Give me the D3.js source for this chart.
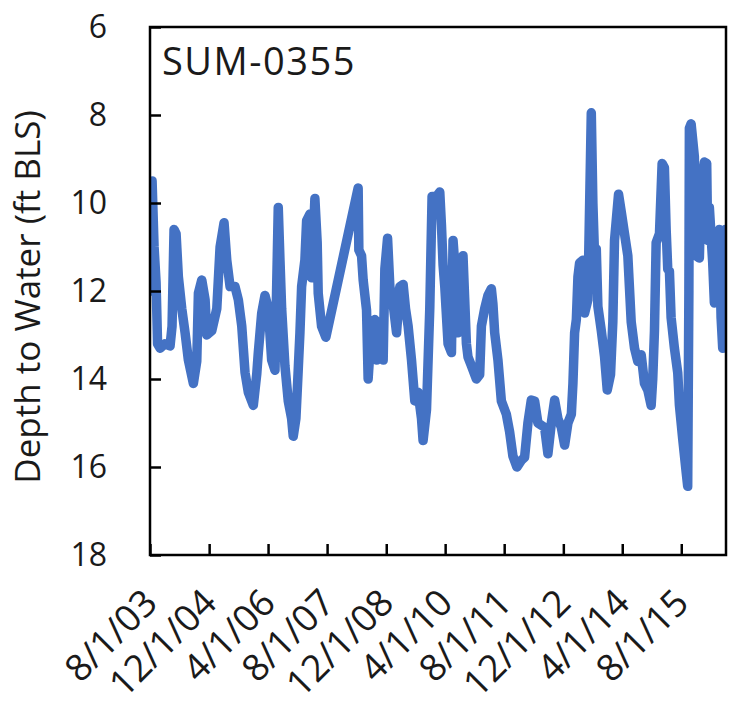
<!DOCTYPE html>
<html>
<head>
<meta charset="utf-8">
<script src="https://cdn.jsdelivr.net/npm/d3@7"></script>
<style>
  html, body { margin: 0; padding: 0; background: #fff; }
  svg { display: block; font-family: "Open Sans", "Noto Sans", sans-serif; }
</style>
</head>
<body>
<svg id="chart" width="730" height="712"></svg>
<script>
// ---- data ----
const wellName = "SUM-0355";
const yAxisTitle = "Depth to Water (ft BLS)";
const yTicks = [6, 8, 10, 12, 14, 16, 18];
const xTickLabels = ["8/1/03", "12/1/04", "4/1/06", "8/1/07", "12/1/08", "4/1/10", "8/1/11", "12/1/12", "4/1/14", "8/1/15"];
// sample dates as decimal years
const decYears = [
  2003.583, 2003.628, 2003.673, 2003.718, 2003.752, 2003.809, 2003.921, 2004.034, 2004.079, 2004.124,
  2004.170, 2004.221, 2004.298, 2004.373, 2004.447, 2004.560, 2004.636, 2004.673, 2004.749, 2004.824,
  2004.862, 2004.975, 2005.088, 2005.162, 2005.252, 2005.313, 2005.388, 2005.500, 2005.575, 2005.652,
  2005.726, 2005.800, 2005.913, 2005.990, 2006.026, 2006.103, 2006.177, 2006.252, 2006.328, 2006.403,
  2006.477, 2006.516, 2006.554, 2006.628, 2006.703, 2006.779, 2006.816, 2006.876, 2006.928, 2006.967,
  2007.005, 2007.079, 2007.118, 2007.192, 2007.231, 2007.305, 2007.357, 2007.380, 2007.456, 2007.553,
  2008.282, 2008.298, 2008.359, 2008.395, 2008.471, 2008.507, 2008.584, 2008.659, 2008.697, 2008.771,
  2008.846, 2008.884, 2008.945, 2008.997, 2009.071, 2009.148, 2009.223, 2009.297, 2009.351, 2009.410,
  2009.486, 2009.561, 2009.635, 2009.712, 2009.748, 2009.825, 2009.899, 2009.951, 2010.050, 2010.125,
  2010.163, 2010.199, 2010.238, 2010.312, 2010.389, 2010.425, 2010.501, 2010.538, 2010.614, 2010.650,
  2010.689, 2010.727, 2010.763, 2010.840, 2010.953, 2011.027, 2011.066, 2011.140, 2011.214, 2011.291,
  2011.327, 2011.366, 2011.440, 2011.517, 2011.629, 2011.704, 2011.778, 2011.869, 2011.968, 2012.042,
  2012.117, 2012.193, 2012.268, 2012.342, 2012.493, 2012.568, 2012.645, 2012.719, 2012.793, 2012.870,
  2012.945, 2013.019, 2013.096, 2013.132, 2013.170, 2013.209, 2013.245, 2013.283, 2013.357, 2013.396,
  2013.470, 2013.547, 2013.583, 2013.621, 2013.660, 2013.696, 2013.773, 2013.847, 2013.908, 2013.982,
  2014.034, 2014.072, 2014.163, 2014.224, 2014.298, 2014.373, 2014.411, 2014.449, 2014.524, 2014.598,
  2014.675, 2014.749, 2014.824, 2014.900, 2014.936, 2014.975, 2015.013, 2015.088, 2015.148, 2015.200,
  2015.239, 2015.275, 2015.313, 2015.351, 2015.426, 2015.501, 2015.539, 2015.613, 2015.690, 2015.726,
  2015.753, 2015.764, 2015.803, 2015.877, 2015.916, 2015.990, 2016.028, 2016.103, 2016.155, 2016.177,
  2016.215, 2016.290, 2016.328, 2016.380, 2016.441, 2016.479, 2016.516, 2016.576, 2016.590
];
// depth to water (ft below land surface)
const depths = [
  12.0, 9.5, 11.0, 11.8, 13.2, 13.3, 13.2, 13.25, 12.8, 10.6,
  10.7, 11.67, 12.4, 12.95, 13.57, 14.1, 13.6, 12.05, 11.75, 12.2,
  13.0, 12.9, 12.4, 11.0, 10.45, 11.3, 11.9, 11.9, 12.2, 12.8,
  13.85, 14.3, 14.6, 13.9, 13.4, 12.5, 12.1, 12.4, 13.57, 13.8,
  10.1, 11.3, 12.4, 13.7, 14.5, 14.9, 15.3, 14.9, 13.8, 12.95,
  11.9, 11.3, 10.4, 10.25, 11.7, 9.9, 10.9, 12.05, 12.8, 13.05,
  9.66, 11.07, 11.2, 11.75, 12.43, 14.0, 12.8, 12.65, 13.57, 12.7,
  13.57, 11.5, 10.8, 11.9, 12.3, 12.95, 11.9, 11.85, 12.4, 12.8,
  13.57, 14.5, 14.3, 14.9, 15.4, 14.7, 12.4, 9.85, 9.85, 9.75,
  10.5, 11.4, 11.9, 13.2, 13.4, 10.85, 11.9, 12.95, 12.65, 11.2,
  12.2, 13.2, 13.5, 13.7, 14.0, 13.9, 12.8, 12.4, 12.1, 11.95,
  12.3, 12.95, 13.57, 14.5, 14.8, 15.2, 15.75, 16.0, 15.85, 15.78,
  15.0, 14.48, 14.5, 15.0, 15.1, 15.7, 15.0, 14.48, 14.9, 15.1,
  15.5, 15.0, 14.8, 14.1, 12.95, 12.65, 11.68, 11.36, 11.3, 12.5,
  12.2, 7.95, 10.0, 11.2, 11.05, 12.35, 12.9, 13.5, 14.25, 13.9,
  12.7, 10.85, 9.8, 10.2, 10.7, 11.2, 11.95, 12.7, 13.3, 13.6,
  13.45, 14.1, 14.25, 14.6, 14.0, 12.9, 10.9, 10.7, 9.1, 9.2,
  10.6, 11.5, 11.55, 12.6, 13.3, 13.86, 14.6, 15.36, 16.1, 16.44,
  12.0, 8.3, 8.2, 8.95, 11.2, 11.25, 9.65, 9.07, 9.1, 10.85,
  10.1, 11.35, 12.27, 11.7, 10.6, 12.6, 13.3, 10.6, 12.5
];

// ---- helpers ----
function decToDate(d) {
  const y = Math.floor(d);
  const s = new Date(y, 0, 1).getTime();
  const e = new Date(y + 1, 0, 1).getTime();
  return new Date(s + (d - y) * (e - s));
}
const parseTick = d3.timeParse("%m/%d/%y");
const series = decYears.map((d, i) => ({ date: decToDate(d), value: depths[i] }));

// ---- layout ----
const svg = d3.select("#chart");
const plot = { left: 150, right: 726, top: 27, bottom: 555 };
const lineColor = "#4472C4";

const x = d3.scaleTime()
  .domain([parseTick("8/1/03"), new Date(2016, 7, 4)])
  .range([plot.left, plot.right]);
const y = d3.scaleLinear()
  .domain([6, 18])
  .range([plot.top, plot.bottom]);

svg.append("clipPath").attr("id", "clip")
  .append("rect")
  .attr("x", plot.left).attr("y", plot.top)
  .attr("width", plot.right - plot.left).attr("height", plot.bottom - plot.top);

const line = d3.line().x(d => x(d.date)).y(d => y(d.value));
svg.append("path")
  .datum(series)
  .attr("clip-path", "url(#clip)")
  .attr("fill", "none")
  .attr("stroke", lineColor)
  .attr("stroke-width", 9.5)
  .attr("stroke-linejoin", "round")
  .attr("stroke-linecap", "round")
  .attr("d", line);

// frame
svg.append("rect")
  .attr("x", plot.left).attr("y", plot.top)
  .attr("width", plot.right - plot.left).attr("height", plot.bottom - plot.top)
  .attr("fill", "none").attr("stroke", "#000").attr("stroke-width", 2.5);

// y axis
const yAxis = d3.axisLeft(y).tickValues(yTicks).tickSize(-11).tickPadding(43).tickFormat(d3.format("d"));
const gy = svg.append("g").attr("transform", `translate(${plot.left},0)`).call(yAxis);
gy.select(".domain").remove();
gy.selectAll(".tick line").attr("stroke", "#000").attr("stroke-width", 2.5);
gy.selectAll(".tick text").attr("font-size", 32).attr("fill", "#1a1a1a")
  .attr("font-family", "'Open Sans', 'Noto Sans', sans-serif");

// x axis
const xTickDates = xTickLabels.map(parseTick);
const xAxis = d3.axisBottom(x).tickValues(xTickDates).tickSize(-11)
  .tickFormat((d, i) => xTickLabels[i]);
const gx = svg.append("g").attr("transform", `translate(0,${plot.bottom})`).call(xAxis);
gx.select(".domain").remove();
gx.selectAll(".tick line").attr("stroke", "#000").attr("stroke-width", 2.5);
gx.selectAll(".tick text")
  .attr("font-size", 37).attr("fill", "#1a1a1a")
  .attr("font-family", "'Open Sans', 'Noto Sans', sans-serif")
  .attr("text-anchor", "end")
  .attr("dy", null).attr("y", 0)
  .attr("transform", "translate(9,50) rotate(-45)");

// well label
svg.append("text")
  .attr("x", 162).attr("y", 75)
  .attr("font-size", 38).attr("letter-spacing", 1.5).attr("fill", "#1a1a1a")
  .text(wellName);

// y axis title
svg.append("text")
  .attr("transform", `translate(40,${(plot.top + plot.bottom) / 2 + 6}) rotate(-90)`)
  .attr("text-anchor", "middle")
  .attr("font-size", 35).attr("fill", "#1a1a1a")
  .text(yAxisTitle);
</script>
</body>
</html>
